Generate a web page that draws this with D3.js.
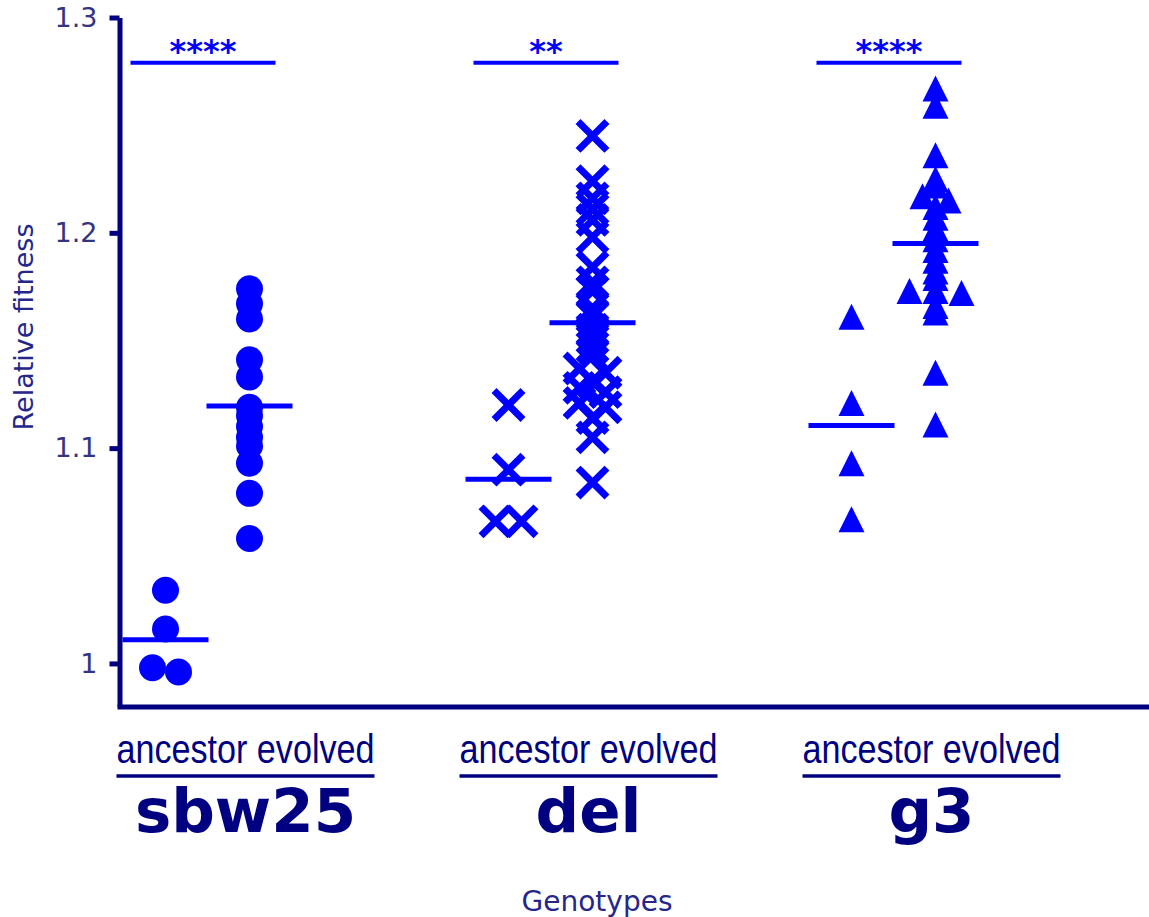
<!DOCTYPE html>
<html>
<head>
<meta charset="utf-8">
<script src="https://cdn.jsdelivr.net/npm/d3@7"></script>
<style>
  body { margin: 0; background: #fff; }
  svg { display: block; }
</style>
</head>
<body>
<div id="plot"></div>
<script>
// Chart data
let genotypes = ['sbw25', 'del', 'g3']
let conditions = ['ancestor', 'evolved']
let significance = ['****', '**', '****']

// Relative fitness per replicate
let sbw25Ancestor = [1.034, 1.016, 0.996, 0.998]
let sbw25Evolved = [1.174, 1.167, 1.160, 1.141, 1.133, 1.119, 1.115, 1.110, 1.105, 1.101, 1.093, 1.079, 1.058]
let delAncestor = [1.120, 1.090, 1.066, 1.066]
let delEvolved = [1.245, 1.224, 1.216, 1.211, 1.206, 1.198, 1.184, 1.177, 1.173, 1.165, 1.161,
  1.155, 1.151, 1.147, 1.143, 1.137, 1.135, 1.131, 1.128, 1.126, 1.121, 1.119, 1.114, 1.105, 1.084]
let g3Ancestor = [1.161, 1.121, 1.093, 1.067]
let g3Evolved = [1.267, 1.259, 1.236, 1.225, 1.222, 1.217, 1.215, 1.212, 1.207, 1.202, 1.197, 1.192,
  1.187, 1.182, 1.179, 1.173, 1.173, 1.172, 1.166, 1.163, 1.135, 1.111]

let yTicks = [1, 1.1, 1.2, 1.3]
let bracketValue = 1.279

// Plot constants
let width = 1149
let height = 917
let axisX = 119.5
let axisBottom = 706.5
let axisTop = 17.5
let navy = '#000080'
let blue = '#0000ff'

let groups = [
  [sbw25Ancestor, sbw25Evolved],
  [delAncestor, delEvolved],
  [g3Ancestor, g3Evolved],
]

let svg = d3.select('#plot')
  .append('svg')
  .attr('width', width)
  .attr('height', height)

// Scales
let y = d3.scaleLinear()
  .domain([0.98, 1.3])
  .range([axisBottom, axisTop])

let xGroup = d3.scalePoint()
  .domain(genotypes)
  .range([207.5, 893.5])

let xSub = d3.scalePoint()
  .domain(conditions)
  .range([-42, 42])

// Spread points that sit on top of each other
function dodge(values, minDist, step) {
  let sorted = values.map(v => ({v: v})).sort((a, b) => b.v - a.v)
  let rows = []
  sorted.forEach(p => {
    let last = rows[rows.length - 1]
    if (last && Math.abs(y(last[0].v) - y(p.v)) < minDist) last.push(p)
    else rows.push([p])
  })
  rows.forEach(r => r.forEach((p, k) => { p.dx = (k - (r.length - 1) / 2) * step }))
  return sorted
}

// Marker shapes
let markers = {
  sbw25: sel => sel.append('circle').attr('r', 13.5).style('fill', blue),
  del: sel => sel.append('path')
    .attr('d', 'M-12,-12L12,12M-12,12L12,-12')
    .style('fill', 'none')
    .style('stroke', blue)
    .style('stroke-width', 7)
    .style('stroke-linecap', 'square'),
  g3: sel => sel.append('path')
    .attr('d', 'M0,-13L13,13L-13,13Z')
    .style('fill', blue),
}

// Left axis
let yAxis = d3.axisLeft(y)
  .tickValues(yTicks)
  .tickSize(10)
  .tickSizeOuter(0)
  .tickPadding(12)
  .tickFormat(d => d === 1 ? '1' : d3.format('.1f')(d))

let gy = svg.append('g')
  .attr('transform', `translate(${axisX},0)`)
  .call(yAxis)
gy.select('.domain').style('stroke', navy).style('stroke-width', 5)
gy.selectAll('.tick line').style('stroke', navy).style('stroke-width', 5)
gy.selectAll('.tick text')
  .style('font-family', 'DejaVu Sans, Verdana, sans-serif')
  .style('font-size', '27px')
  .style('fill', '#35357f')

// Bottom axis line (no ticks)
let xFrame = d3.scaleLinear().domain([0, 1]).range([axisX - 2.5, width])
let gx = svg.append('g')
  .attr('transform', `translate(0,${axisBottom})`)
  .call(d3.axisBottom(xFrame).tickValues([]).tickSizeOuter(0))
gx.select('.domain').style('stroke', navy).style('stroke-width', 5)

// Axis titles
svg.append('text')
  .attr('transform', `translate(33,327) rotate(-90)`)
  .attr('text-anchor', 'middle')
  .style('font-family', 'DejaVu Sans, Verdana, sans-serif')
  .style('font-size', '27px')
  .style('fill', '#26268a')
  .text('Relative fitness')

svg.append('text')
  .attr('x', 597)
  .attr('y', 911)
  .attr('text-anchor', 'middle')
  .style('font-family', 'DejaVu Sans, Verdana, sans-serif')
  .style('font-size', '28px')
  .style('fill', '#26268a')
  .text('Genotypes')

// Points and mean lines
genotypes.forEach((g, gi) => {
  conditions.forEach((c, ci) => {
    let values = groups[gi][ci]
    let cx = xGroup(g) + xSub(c)
    let pts = dodge(values, 6, 26)

    pts.forEach(p => {
      let m = svg.append('g')
        .attr('transform', `translate(${cx + p.dx},${y(p.v)})`)
      markers[g](m)
    })

    let mean = d3.mean(values)
    svg.append('line')
      .attr('x1', cx - 43)
      .attr('x2', cx + 43)
      .attr('y1', y(mean))
      .attr('y2', y(mean))
      .style('stroke', blue)
      .style('stroke-width', 5)
  })

  // Significance bracket
  let x1 = xGroup(g) + xSub('ancestor') - 35
  let x2 = xGroup(g) + xSub('evolved') + 26
  svg.append('line')
    .attr('x1', x1)
    .attr('x2', x2)
    .attr('y1', y(bracketValue))
    .attr('y2', y(bracketValue))
    .style('stroke', blue)
    .style('stroke-width', 4)

  svg.append('text')
    .attr('x', (x1 + x2) / 2)
    .attr('y', y(bracketValue) - 1)
    .attr('text-anchor', 'middle')
    .style('font-family', 'DejaVu Sans, Verdana, sans-serif')
    .style('font-weight', 'bold')
    .style('font-size', '32px')
    .style('fill', blue)
    .text(significance[gi])

  // Category labels under the axis
  let lx = xGroup(g) + 38
  svg.append('text')
    .attr('x', lx - 129)
    .attr('y', 763)
    .attr('textLength', 258)
    .attr('lengthAdjust', 'spacingAndGlyphs')
    .style('font-family', 'Liberation Sans Narrow, Liberation Sans, Arial, sans-serif')
    .style('font-size', '40px')
    .style('fill', navy)
    .text(conditions.join(' '))

  svg.append('line')
    .attr('x1', lx - 129)
    .attr('x2', lx + 129)
    .attr('y1', 776)
    .attr('y2', 776)
    .style('stroke', navy)
    .style('stroke-width', 3.5)

  svg.append('text')
    .attr('x', lx)
    .attr('y', 832)
    .attr('text-anchor', 'middle')
    .style('font-family', 'DejaVu Sans, Verdana, sans-serif')
    .style('font-weight', 'bold')
    .style('font-size', '61px')
    .style('fill', navy)
    .text(g)
})
</script>
</body>
</html>
